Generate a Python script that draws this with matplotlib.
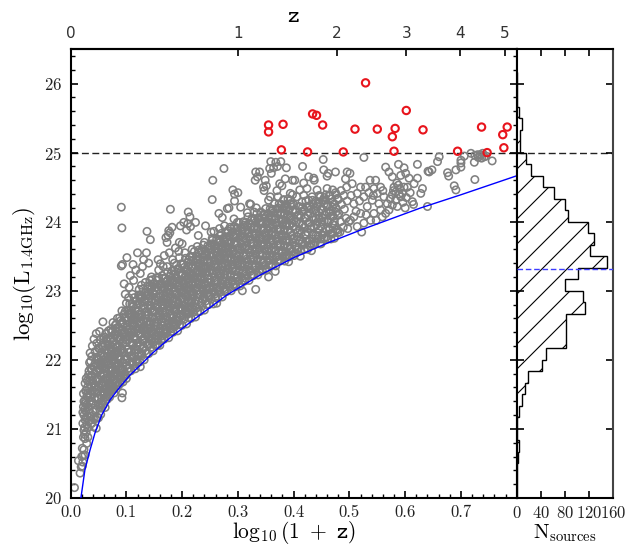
import numpy as np
import matplotlib
matplotlib.use("Agg")
import matplotlib.pyplot as plt
from matplotlib.ticker import MultipleLocator

plt.rcParams['font.family'] = 'serif'
plt.rcParams['font.serif'] = ['cmr10', 'DejaVu Serif']
plt.rcParams['mathtext.fontset'] = 'cm'
plt.rcParams['axes.formatter.use_mathtext'] = True
plt.rcParams['axes.unicode_minus'] = False

# ---- data ----
# grey sources, (log10(1+z), log10 L) grouped by redshift strip
grey_a = [(0.007,20.15),(0.014,20.54),(0.017,20.36),(0.021,20.46),(0.026,20.62),(0.024,20.70),(0.029,20.79),
          (0.026,20.86),(0.028,20.95),(0.024,20.98),(0.029,21.06),(0.026,21.13),(0.024,21.20),(0.030,21.19),
          (0.028,21.25),(0.023,21.32),(0.026,21.37),(0.032,21.32),(0.035,21.47),(0.029,21.47),(0.023,21.51),
          (0.038,21.40),(0.036,21.18),(0.041,21.15),(0.045,21.15),(0.038,21.08),(0.041,21.03),(0.045,21.27),
          (0.031,21.52),(0.026,21.66),(0.028,21.73),(0.032,21.78),(0.036,21.76),(0.041,21.66),(0.042,21.61),
          (0.034,21.59),(0.038,21.85),(0.041,21.90),(0.034,21.96),(0.038,22.05),(0.035,22.10),(0.044,22.12),
          (0.027,21.42),(0.031,21.02),(0.033,21.28),(0.022,21.08),(0.020,20.60),(0.022,20.52),(0.019,20.45),
          (0.031,20.88),(0.034,21.40),(0.039,21.55),(0.043,21.45),(0.040,21.70),(0.036,21.88),(0.043,21.80),
          (0.030,21.60),(0.025,21.28),(0.033,21.12),(0.021,20.72),(0.023,20.88),(0.025,21.02),(0.027,21.16),
          (0.022,21.24),(0.024,21.40),(0.028,21.56),(0.030,21.70),(0.033,21.84),(0.036,21.98),(0.039,22.20),
          (0.042,22.30),(0.044,21.95),(0.040,21.25),(0.037,21.35),(0.034,21.70),(0.032,21.45),(0.029,21.35),
          (0.027,21.55),(0.025,20.92),(0.023,20.62),(0.037,21.62),(0.043,21.60),(0.045,21.72),(0.046,22.38)]
grey_b = [(0.050,22.17),(0.059,22.19),(0.047,22.24),(0.053,22.29),(0.059,22.31),(0.052,22.41),(0.058,22.55),
          (0.047,21.52),(0.049,21.44),(0.052,21.35),(0.055,21.30),(0.050,21.60),(0.048,21.72),(0.053,21.78),
          (0.056,21.66),(0.058,21.52),(0.061,21.45),(0.064,21.58),(0.062,21.73),(0.057,21.90),(0.054,21.98),
          (0.050,21.92),(0.047,22.04),(0.060,22.05),(0.063,21.88),(0.066,21.80),(0.068,21.66),(0.070,21.55),
          (0.066,21.50),(0.072,21.56),(0.074,21.62),(0.071,21.75),(0.069,21.93),(0.065,22.10),(0.067,22.22),
          (0.071,22.05),(0.074,21.85),(0.077,21.70),(0.078,21.58),(0.080,21.78),(0.082,21.92),(0.079,22.05),
          (0.076,22.18),(0.073,22.30),(0.080,22.35),(0.084,22.20),(0.086,22.02),(0.088,21.86),(0.085,21.72),
          (0.083,21.68),(0.088,22.30),(0.087,22.45),(0.082,22.52),(0.075,22.42),(0.063,22.38),(0.089,21.66),
          (0.090,21.78),(0.046,21.84),(0.056,21.40),(0.061,21.52),(0.068,21.55),(0.078,21.95),(0.081,22.12),
          (0.064,21.97),(0.059,21.80),(0.062,21.62),(0.072,22.15),(0.076,21.62),(0.084,22.40),(0.086,21.95),
          (0.070,21.58),(0.058,22.00),(0.052,21.85),(0.067,21.72),(0.074,22.00),(0.085,22.10),(0.079,21.82),
          (0.055,22.10),(0.065,22.28),(0.089,22.15),(0.083,21.80),(0.060,21.95)]
grey_c = [(0.091,24.21),(0.092,23.91),(0.101,23.48),(0.091,23.36),(0.093,23.38),(0.137,23.86),(0.143,23.74),
          (0.094,22.12),(0.092,21.85),(0.095,21.76),(0.097,22.00),(0.099,22.25),(0.096,22.40),(0.093,22.55),
          (0.098,22.70),(0.100,22.82),(0.102,22.58),(0.104,22.35),(0.103,22.15),(0.101,21.92),(0.106,21.88),
          (0.108,22.05),(0.110,22.22),(0.107,22.45),(0.109,22.62),(0.112,22.78),(0.111,22.95),(0.114,22.52),
          (0.116,22.30),(0.115,22.10),(0.118,21.98),(0.120,22.15),(0.121,22.38),(0.119,22.60),(0.122,22.72),
          (0.124,22.88),(0.123,23.02),(0.126,22.55),(0.128,22.28),(0.127,22.08),(0.130,22.18),(0.131,22.42),
          (0.133,22.65),(0.132,22.85),(0.135,22.98),(0.134,23.12),(0.137,22.70),(0.139,22.45),(0.138,22.22),
          (0.141,22.30),(0.142,22.55),(0.144,22.78),(0.143,22.92),(0.146,23.05),(0.145,23.20),(0.148,22.62),
          (0.149,22.38),(0.147,22.25),(0.105,23.05),(0.113,23.15),(0.125,23.25),(0.129,23.35),(0.140,23.40),
          (0.117,23.30),(0.096,23.10),(0.098,22.95),(0.104,22.90),(0.108,22.72),(0.113,22.40),(0.117,22.85),
          (0.121,22.05),(0.125,22.45),(0.128,22.92),(0.132,22.30),(0.136,22.55),(0.140,22.85),(0.144,22.40),
          (0.146,22.70),(0.150,22.95),(0.150,22.45),(0.097,21.80),(0.110,21.95),(0.124,22.20),(0.137,22.35),
          (0.102,22.50),(0.106,22.65),(0.115,22.65),(0.119,22.45),(0.123,22.62),(0.130,22.78),(0.134,22.48),
          (0.139,22.98),(0.142,23.15),(0.148,23.10),(0.127,23.08),(0.111,22.58),(0.100,22.38),(0.094,22.28),
          (0.107,23.22),(0.136,23.55),(0.131,23.45),(0.120,23.55),(0.112,23.38),(0.092,21.45),(0.093,21.52),
          (0.125,21.90)]
grey_d = [(0.179,24.18),(0.175,23.80),(0.178,23.84),(0.171,23.77),(0.197,23.94),(0.208,23.88),(0.214,24.07),
          (0.215,23.93),(0.211,24.14),(0.210,23.97),(0.203,23.99),(0.224,23.99),(0.182,23.92),(0.176,23.87),
          (0.173,23.70),(0.195,23.70),(0.194,23.57),(0.168,23.51),(0.161,23.39),(0.152,22.30),(0.154,22.55),
          (0.156,22.80),(0.153,23.00),(0.155,23.15),(0.158,23.30),(0.157,22.40),(0.160,22.65),(0.162,22.92),
          (0.159,23.08),(0.163,22.35),(0.165,22.50),(0.166,22.75),(0.164,23.22),(0.168,23.02),(0.167,22.88),
          (0.170,22.45),(0.172,22.62),(0.171,22.98),(0.174,23.15),(0.173,23.35),(0.176,22.52),(0.178,22.78),
          (0.177,23.05),(0.180,23.25),(0.182,22.60),(0.184,22.85),(0.183,23.12),(0.186,23.40),(0.185,22.48),
          (0.188,22.70),(0.190,22.95),(0.189,23.18),(0.192,23.32),(0.191,22.58),(0.194,22.82),(0.196,23.08),
          (0.195,23.48),(0.198,22.65),(0.200,22.90),(0.199,23.22),(0.202,23.38),(0.201,22.72),(0.204,22.98),
          (0.206,23.15),(0.205,23.55),(0.208,22.68),(0.210,22.85),(0.209,23.30),(0.212,23.45),(0.214,22.75),
          (0.216,23.02),(0.215,23.25),(0.218,23.60),(0.217,22.88),(0.220,23.10),(0.219,23.35),(0.222,22.72),
          (0.151,22.70),(0.158,22.58),(0.163,23.10),(0.169,22.70),(0.175,22.90),(0.181,22.45),(0.187,22.95),
          (0.193,23.05),(0.197,22.75),(0.203,23.10),(0.207,22.92),(0.213,23.18),(0.219,22.95),(0.153,22.85),
          (0.160,22.42),(0.166,22.60),(0.172,22.82),(0.179,23.08),(0.185,22.72),(0.190,22.52),(0.198,22.98),
          (0.204,22.78),(0.211,23.05),(0.216,22.82),(0.221,23.22),(0.157,23.45),(0.177,23.55),(0.188,23.62),
          (0.166,23.35),(0.200,23.68),(0.183,23.45),(0.162,22.28),(0.173,22.40),(0.184,22.55),(0.195,22.62),
          (0.206,22.70),(0.213,22.68)]
grey_e = [(0.254,24.32),(0.255,24.60),(0.275,24.77),(0.291,24.46),(0.294,24.40),(0.300,24.42),(0.294,24.30),
          (0.281,24.19),(0.266,24.12),(0.288,23.90),(0.284,24.20),(0.229,23.80),(0.227,23.64),(0.242,23.94),
          (0.257,23.86),(0.272,24.06),(0.276,23.94),(0.282,23.87),(0.293,24.04),(0.299,23.99),(0.293,23.78),
          (0.269,23.80),(0.254,23.76),(0.224,22.85),(0.226,23.05),(0.228,23.28),(0.225,23.45),(0.231,22.95),
          (0.233,23.18),(0.232,23.40),(0.235,23.58),(0.237,22.88),(0.239,23.10),(0.238,23.32),(0.241,23.52),
          (0.240,23.70),(0.244,22.95),(0.246,23.22),(0.245,23.45),(0.248,23.62),(0.250,23.05),(0.252,23.30),
          (0.251,23.50),(0.253,23.68),(0.256,22.98),(0.258,23.15),(0.257,23.38),(0.260,23.58),(0.262,23.12),
          (0.264,23.35),(0.263,23.55),(0.266,23.72),(0.268,23.05),(0.270,23.25),(0.269,23.48),(0.272,23.65),
          (0.274,23.15),(0.276,23.40),(0.275,23.58),(0.278,23.78),(0.280,23.10),(0.282,23.32),(0.281,23.55),
          (0.284,23.70),(0.286,23.22),(0.288,23.45),(0.287,23.62),(0.290,23.15),(0.292,23.38),(0.291,23.58),
          (0.294,23.68),(0.296,23.28),(0.298,23.50),(0.297,23.82),(0.300,23.20),(0.223,23.20),(0.234,22.98),
          (0.243,23.35),(0.249,22.92),(0.259,23.45),(0.265,23.00),(0.271,23.60),(0.277,23.02),(0.283,23.48),
          (0.289,23.32),(0.295,23.10),(0.236,23.25),(0.247,23.12),(0.261,23.28),(0.273,23.35),(0.285,23.05),
          (0.299,23.40),(0.230,23.55),(0.252,23.85),(0.267,23.90),(0.279,23.62),(0.262,22.82),(0.230,23.38),
          (0.245,23.02),(0.258,23.65)]
grey_f = [(0.305,24.21),(0.311,23.92),(0.317,24.13),(0.321,24.26),(0.323,24.25),(0.333,24.20),(0.341,24.14),
          (0.329,24.14),(0.335,24.65),(0.339,24.72),(0.331,24.60),(0.349,24.60),(0.346,24.50),(0.351,24.52),
          (0.332,24.72),(0.347,24.45),(0.357,24.77),(0.368,24.86),(0.377,24.87),(0.359,24.87),(0.364,24.78),
          (0.371,24.80),(0.387,24.78),(0.360,24.70),(0.385,24.62),(0.379,24.52),(0.370,24.45),(0.375,24.55),
          (0.358,24.36),(0.355,24.31),(0.372,24.36),(0.382,24.31),(0.394,24.41),(0.394,24.26),(0.398,24.60),
          (0.302,23.15),(0.304,23.38),(0.303,23.60),(0.306,23.80),(0.308,23.25),(0.310,23.50),(0.309,23.72),
          (0.312,23.95),(0.314,23.18),(0.316,23.42),(0.315,23.65),(0.318,23.88),(0.320,23.30),(0.322,23.55),
          (0.321,23.78),(0.324,24.02),(0.326,23.22),(0.328,23.48),(0.327,23.70),(0.330,23.92),(0.332,23.35),
          (0.334,23.60),(0.333,23.82),(0.336,24.05),(0.338,23.28),(0.340,23.52),(0.339,23.75),(0.342,23.98),
          (0.344,23.40),(0.346,23.65),(0.345,23.88),(0.348,24.10),(0.350,23.32),(0.352,23.58),(0.351,23.80),
          (0.354,24.00),(0.356,23.45),(0.358,23.70),(0.357,23.92),(0.360,24.15),(0.362,23.38),(0.364,23.62),
          (0.363,23.85),(0.366,24.08),(0.368,23.50),(0.370,23.75),(0.369,23.98),(0.372,24.20),(0.374,23.45),
          (0.376,23.68),(0.375,23.90),(0.378,24.12),(0.380,23.55),(0.382,23.80),(0.381,24.02),(0.384,24.22),
          (0.386,23.50),(0.388,23.72),(0.387,23.95),(0.390,24.15),(0.392,23.60),(0.394,23.85),(0.393,24.05),
          (0.396,23.52),(0.398,23.75),(0.397,23.98),(0.400,24.25),(0.308,23.00),(0.332,23.02),(0.313,23.62),
          (0.343,23.70),(0.367,23.28),(0.391,23.42),(0.355,23.20)]
grey_g = [(0.402,24.60),(0.411,24.46),(0.403,24.17),(0.406,24.36),(0.416,24.80),(0.437,24.60),(0.418,24.38),
          (0.453,24.90),(0.462,24.70),(0.475,24.72),(0.496,24.72),(0.501,24.70),(0.493,24.62),(0.454,24.75),
          (0.460,24.66),(0.442,24.46),(0.448,24.36),(0.433,24.36),(0.427,24.31),(0.415,24.29),(0.424,24.22),
          (0.442,24.22),(0.457,24.31),(0.460,24.48),(0.418,24.56),(0.424,24.48),(0.436,24.63),(0.427,24.65),
          (0.404,23.55),(0.406,23.78),(0.405,24.00),(0.409,23.62),(0.411,23.88),(0.410,24.10),(0.414,23.68),
          (0.416,23.95),(0.415,24.15),(0.419,23.60),(0.421,23.82),(0.420,24.05),(0.424,23.72),(0.426,23.98),
          (0.425,24.20),(0.429,23.65),(0.431,23.90),(0.430,24.12),(0.434,23.75),(0.436,24.02),(0.435,24.25),
          (0.439,23.70),(0.441,23.95),(0.440,24.15),(0.444,23.80),(0.446,24.05),(0.445,24.28),(0.449,23.75),
          (0.451,24.00),(0.450,24.18),(0.454,23.85),(0.456,24.10),(0.455,24.35),(0.459,23.78),(0.461,24.02),
          (0.460,24.22),(0.464,23.90),(0.466,24.15),(0.465,24.38),(0.469,23.82),(0.471,24.08),(0.470,24.28),
          (0.474,23.95),(0.476,24.20),(0.475,24.42),(0.479,23.88),(0.481,24.12),(0.480,24.32),(0.484,24.00),
          (0.486,24.25),(0.485,24.45),(0.489,23.92),(0.491,24.18),(0.490,24.38),(0.494,24.05),(0.496,24.30),
          (0.495,24.50),(0.499,24.00),(0.412,23.50),(0.432,23.58),(0.447,23.68),(0.467,23.75),(0.483,23.85),
          (0.497,23.90)]
grey_h = [(0.526,24.93),(0.537,24.60),(0.547,24.60),(0.556,24.50),(0.544,24.48),(0.529,24.50),(0.520,24.50),
          (0.565,24.79),(0.571,24.72),(0.577,24.65),(0.588,24.83),(0.598,24.78),(0.601,24.70),(0.592,24.67),
          (0.607,24.63),(0.622,24.83),(0.622,24.63),(0.631,24.48),(0.628,24.41),(0.613,24.29),(0.595,24.41),
          (0.592,24.36),(0.583,24.31),(0.577,24.24),(0.580,24.50),(0.588,24.53),(0.598,24.50),(0.604,24.50),
          (0.583,24.43),(0.577,24.39),(0.514,24.41),(0.526,24.36),(0.541,24.31),(0.553,24.26),(0.532,24.22),
          (0.520,24.12),(0.508,24.07),(0.544,24.12),(0.556,24.17),(0.565,24.12),(0.559,24.07),(0.538,24.02),
          (0.526,23.98),(0.514,23.93),(0.522,23.85),(0.502,24.02),(0.568,24.26),(0.571,24.17),(0.562,24.36),
          (0.550,24.41),(0.508,24.26),(0.503,24.38),(0.512,24.15),(0.535,24.42),(0.548,24.02),(0.573,24.33),
          (0.586,24.22),(0.589,24.40),(0.596,24.28),(0.602,24.35),(0.579,24.45),(0.585,24.56),(0.600,24.20),
          (0.609,24.42),(0.616,24.55),(0.590,24.48),(0.518,24.30),(0.530,24.10),(0.543,24.38),(0.560,24.45),
          (0.505,24.55),(0.615,24.25)]
grey_i = [(0.640,24.22),(0.661,24.94),(0.658,24.87),(0.643,24.72),(0.648,24.75),(0.678,24.66),(0.691,24.75),
          (0.700,24.79),(0.700,24.89),(0.724,24.86),(0.725,24.96),(0.735,24.97),(0.742,24.94),(0.731,24.93),
          (0.739,24.99),(0.745,24.95),(0.718,24.99),(0.730,24.97),(0.756,24.88),(0.725,24.61),(0.691,24.46),
          (0.688,24.52),(0.676,24.71),(0.641,24.73),(0.706,24.95),(0.700,24.85),(0.734,24.96),(0.737,24.92)]

# crowded core of the cloud just above the limit curve, log10(1+z): [log10 L, ...]
core_1 = {0.046: [21.01, 21.29, 21.57, 21.85], 0.048: [21.17, 21.45, 21.73, 22.01],
          0.050: [21.16, 21.44, 21.72, 22.00], 0.052: [21.32, 21.60, 21.88, 22.16],
          0.054: [21.21, 21.49, 21.77, 22.05], 0.056: [21.37, 21.65, 21.93, 22.21],
          0.058: [21.34, 21.62, 21.90, 22.18], 0.060: [21.49, 21.77, 22.05, 22.33],
          0.062: [21.31, 21.59, 21.87, 22.15], 0.064: [21.46, 21.74, 22.02, 22.30],
          0.066: [21.43, 21.71, 21.99, 22.27], 0.068: [21.58, 21.86, 22.14, 22.42],
          0.070: [21.46, 21.74, 22.02, 22.30], 0.072: [21.60, 21.88, 22.16, 22.44],
          0.074: [21.56, 21.84, 22.12, 22.40], 0.076: [21.70, 21.98, 22.26, 22.54],
          0.078: [21.52, 21.80, 22.08, 22.36], 0.080: [21.66, 21.94, 22.22, 22.50],
          0.082: [21.62, 21.90, 22.18, 22.46], 0.084: [21.76, 22.04, 22.32, 22.60],
          0.086: [21.63, 21.91, 22.19, 22.47], 0.088: [21.77, 22.05, 22.33, 22.61],
          0.090: [21.73, 22.01, 22.29, 22.57], 0.092: [21.87, 22.15, 22.43, 22.71],
          0.094: [21.68, 21.96, 22.24, 22.52], 0.096: [21.82, 22.10, 22.38, 22.66],
          0.098: [21.77, 22.05, 22.33, 22.61]}
core_2 = {0.100: [21.73, 22.01, 22.29, 22.57], 0.102: [21.87, 22.15, 22.43, 22.71],
          0.104: [21.83, 22.11, 22.39, 22.67], 0.106: [21.97, 22.25, 22.53, 22.81],
          0.108: [21.84, 22.12, 22.40, 22.68], 0.110: [21.97, 22.25, 22.53, 22.81],
          0.112: [21.93, 22.21, 22.49, 22.77], 0.114: [22.06, 22.34, 22.62, 22.90],
          0.116: [21.87, 22.15, 22.43, 22.71], 0.118: [22.01, 22.29, 22.57, 22.85],
          0.120: [21.96, 22.24, 22.52, 22.80], 0.122: [22.10, 22.38, 22.66, 22.94],
          0.124: [21.97, 22.25, 22.53, 22.81], 0.126: [22.10, 22.38, 22.66, 22.94],
          0.128: [22.06, 22.34, 22.62, 22.90], 0.130: [22.19, 22.47, 22.75, 23.03],
          0.132: [22.00, 22.28, 22.56, 22.84], 0.134: [22.13, 22.41, 22.69, 22.97],
          0.136: [22.09, 22.37, 22.65, 22.93], 0.138: [22.23, 22.51, 22.79, 23.07],
          0.140: [22.09, 22.37, 22.65, 22.93], 0.142: [22.23, 22.51, 22.79, 23.07],
          0.144: [22.18, 22.46, 22.74, 23.02], 0.146: [22.32, 22.60, 22.88, 23.16],
          0.148: [22.13, 22.41, 22.69, 22.97], 0.150: [22.26, 22.54, 22.82, 23.10],
          0.152: [22.21, 22.49, 22.77, 23.05], 0.154: [22.35, 22.63, 22.91, 23.19],
          0.156: [22.21, 22.49, 22.77, 23.05], 0.158: [22.35, 22.63, 22.91, 23.19]}
core_3 = {0.160: [22.21, 22.46, 22.71, 22.96], 0.162: [22.34, 22.59, 22.84, 23.09],
          0.164: [22.30, 22.55, 22.80, 23.05], 0.166: [22.43, 22.68, 22.93, 23.18],
          0.168: [22.30, 22.55, 22.80, 23.05], 0.170: [22.43, 22.68, 22.93, 23.18],
          0.172: [22.38, 22.63, 22.88, 23.13], 0.174: [22.52, 22.77, 23.02, 23.27],
          0.176: [22.32, 22.57, 22.82, 23.07], 0.178: [22.46, 22.71, 22.96, 23.21],
          0.180: [22.41, 22.66, 22.91, 23.16], 0.182: [22.54, 22.79, 23.04, 23.29],
          0.184: [22.40, 22.65, 22.90, 23.15], 0.186: [22.54, 22.79, 23.04, 23.29],
          0.188: [22.49, 22.74, 22.99, 23.24], 0.190: [22.62, 22.87, 23.12, 23.37],
          0.192: [22.42, 22.67, 22.92, 23.17], 0.194: [22.56, 22.81, 23.06, 23.31],
          0.196: [22.51, 22.76, 23.01, 23.26], 0.198: [22.64, 22.89, 23.14, 23.39],
          0.200: [22.50, 22.75, 23.00, 23.25], 0.202: [22.64, 22.89, 23.14, 23.39],
          0.204: [22.59, 22.84, 23.09, 23.34], 0.206: [22.72, 22.97, 23.22, 23.47],
          0.208: [22.52, 22.77, 23.02, 23.27], 0.210: [22.66, 22.91, 23.16, 23.41],
          0.212: [22.61, 22.86, 23.11, 23.36], 0.214: [22.74, 22.99, 23.24, 23.49],
          0.216: [22.60, 22.85, 23.10, 23.35], 0.218: [22.74, 22.99, 23.24, 23.49],
          0.220: [22.69, 22.94, 23.19, 23.44], 0.222: [22.82, 23.07, 23.32, 23.57],
          0.224: [22.62, 22.87, 23.12, 23.37], 0.226: [22.75, 23.00, 23.25, 23.50],
          0.228: [22.70, 22.95, 23.20, 23.45], 0.230: [22.84, 23.09, 23.34, 23.59],
          0.232: [22.70, 22.95, 23.20, 23.45], 0.234: [22.83, 23.08, 23.33, 23.58],
          0.236: [22.78, 23.03, 23.28, 23.53], 0.238: [22.91, 23.16, 23.41, 23.66]}
core_4 = {0.240: [22.72, 22.96, 23.20, 23.44], 0.242: [22.85, 23.09, 23.33, 23.57],
          0.244: [22.80, 23.04, 23.28, 23.52], 0.246: [22.93, 23.17, 23.41, 23.65],
          0.248: [22.80, 23.04, 23.28, 23.52], 0.250: [22.93, 23.17, 23.41, 23.65],
          0.252: [22.88, 23.12, 23.36, 23.60], 0.254: [23.01, 23.25, 23.49, 23.73],
          0.256: [22.81, 23.05, 23.29, 23.53], 0.258: [22.95, 23.19, 23.43, 23.67],
          0.260: [22.90, 23.14, 23.38, 23.62], 0.262: [23.03, 23.27, 23.51, 23.75],
          0.264: [22.89, 23.13, 23.37, 23.61], 0.266: [23.02, 23.26, 23.50, 23.74],
          0.268: [22.98, 23.22, 23.46, 23.70], 0.270: [23.11, 23.35, 23.59, 23.83],
          0.272: [22.91, 23.15, 23.39, 23.63], 0.274: [23.04, 23.28, 23.52, 23.76],
          0.276: [22.99, 23.23, 23.47, 23.71], 0.278: [23.13, 23.37, 23.61, 23.85],
          0.280: [22.99, 23.23, 23.47, 23.71], 0.282: [23.12, 23.36, 23.60, 23.84],
          0.284: [23.07, 23.31, 23.55, 23.79], 0.286: [23.20, 23.44, 23.68, 23.92],
          0.288: [23.00, 23.24, 23.48, 23.72], 0.290: [23.13, 23.37, 23.61, 23.85],
          0.292: [23.08, 23.32, 23.56, 23.80], 0.294: [23.21, 23.45, 23.69, 23.93],
          0.296: [23.06, 23.30, 23.54, 23.78], 0.298: [23.19, 23.43, 23.67, 23.91],
          0.300: [23.14, 23.38, 23.62, 23.86], 0.302: [23.27, 23.51, 23.75, 23.99],
          0.304: [23.07, 23.31, 23.55, 23.79], 0.306: [23.20, 23.44, 23.68, 23.92],
          0.308: [23.15, 23.39, 23.63, 23.87], 0.310: [23.28, 23.52, 23.76, 24.00],
          0.312: [23.14, 23.38, 23.62, 23.86], 0.314: [23.27, 23.51, 23.75, 23.99],
          0.316: [23.22, 23.46, 23.70, 23.94], 0.318: [23.35, 23.59, 23.83, 24.07]}
core_5 = {0.320: [23.15, 23.38, 23.61, 23.84], 0.322: [23.28, 23.51, 23.74, 23.97],
          0.324: [23.23, 23.46, 23.69, 23.92], 0.326: [23.36, 23.59, 23.82, 24.05],
          0.328: [23.22, 23.45, 23.68, 23.91], 0.330: [23.35, 23.58, 23.81, 24.04],
          0.332: [23.30, 23.53, 23.76, 23.99], 0.334: [23.43, 23.66, 23.89, 24.12],
          0.336: [23.23, 23.46, 23.69, 23.92], 0.338: [23.36, 23.59, 23.82, 24.05],
          0.340: [23.31, 23.54, 23.77, 24.00], 0.342: [23.44, 23.67, 23.90, 24.13],
          0.344: [23.29, 23.52, 23.75, 23.98], 0.346: [23.42, 23.65, 23.88, 24.11],
          0.348: [23.37, 23.60, 23.83, 24.06], 0.350: [23.50, 23.73, 23.96, 24.19],
          0.352: [23.30, 23.53, 23.76, 23.99], 0.354: [23.43, 23.66, 23.89, 24.12],
          0.356: [23.37, 23.60, 23.83, 24.06], 0.358: [23.50, 23.73, 23.96, 24.19],
          0.360: [23.36, 23.59, 23.82, 24.05], 0.362: [23.49, 23.72, 23.95, 24.18],
          0.364: [23.44, 23.67, 23.90, 24.13], 0.366: [23.57, 23.80, 24.03, 24.26],
          0.368: [23.36, 23.59, 23.82, 24.05], 0.370: [23.49, 23.72, 23.95, 24.18],
          0.372: [23.44, 23.67, 23.90, 24.13], 0.374: [23.57, 23.80, 24.03, 24.26],
          0.376: [23.43, 23.66, 23.89, 24.12], 0.378: [23.56, 23.79, 24.02, 24.25],
          0.380: [23.50, 23.73, 23.96, 24.19], 0.382: [23.63, 23.86, 24.09, 24.32],
          0.384: [23.43, 23.66, 23.89, 24.12], 0.386: [23.56, 23.79, 24.02, 24.25],
          0.388: [23.51, 23.74, 23.97, 24.20], 0.390: [23.64, 23.87, 24.10, 24.33],
          0.392: [23.49, 23.72, 23.95, 24.18], 0.394: [23.62, 23.85, 24.08, 24.31],
          0.396: [23.57, 23.80, 24.03, 24.26], 0.398: [23.70, 23.93, 24.16, 24.39]}
core_6 = {0.401: [23.51, 23.76, 24.01], 0.404: [23.64, 23.89, 24.14], 0.407: [23.59, 23.84, 24.09],
          0.410: [23.72, 23.97, 24.22], 0.413: [23.58, 23.83, 24.08], 0.416: [23.71, 23.96, 24.21],
          0.419: [23.67, 23.92, 24.17], 0.422: [23.80, 24.05, 24.30], 0.425: [23.60, 23.85, 24.10],
          0.428: [23.73, 23.98, 24.23], 0.431: [23.68, 23.93, 24.18], 0.434: [23.81, 24.06, 24.31],
          0.437: [23.67, 23.92, 24.17], 0.440: [23.80, 24.05, 24.30], 0.443: [23.75, 24.00, 24.25],
          0.446: [23.88, 24.13, 24.38], 0.449: [23.68, 23.93, 24.18], 0.452: [23.81, 24.06, 24.31],
          0.455: [23.76, 24.01, 24.26], 0.458: [23.89, 24.14, 24.39], 0.461: [23.75, 24.00, 24.25],
          0.464: [23.88, 24.13, 24.38], 0.467: [23.83, 24.08, 24.33], 0.470: [23.96, 24.21, 24.46],
          0.473: [23.76, 24.01, 24.26], 0.476: [23.89, 24.14, 24.39], 0.479: [23.84, 24.09, 24.34]}

# bright sources above log L = 25
red_pts = [(0.355,25.40),(0.355,25.30),(0.381,25.41),(0.378,25.04),(0.425,25.01),(0.434,25.56),(0.441,25.54),
           (0.452,25.40),(0.489,25.01),(0.510,25.34),(0.529,26.01),(0.550,25.34),(0.577,25.23),(0.582,25.35),
           (0.580,25.02),(0.602,25.61),(0.632,25.33),(0.694,25.02),(0.737,25.37),(0.747,25.00),(0.775,25.26),
           (0.777,25.07),(0.783,25.37)]

# luminosity limit curve
curve_x = [0.0185, 0.0257, 0.0347, 0.0437, 0.0557, 0.0707, 0.0887, 0.1067, 0.1246, 0.1486,
           0.1786, 0.2205, 0.2805, 0.3405, 0.4004, 0.4604, 0.5204, 0.628, 0.70, 0.802]
curve_L = [20.00, 20.41, 20.69, 20.94, 21.20, 21.42, 21.61, 21.78, 21.92, 22.11,
           22.32, 22.58, 22.94, 23.23, 23.48, 23.69, 23.88, 24.20, 24.39, 24.67]

# histogram of log L, bins of 1/6 dex starting at 20
hist_start = 20.0
hist_width = 1.0 / 6.0
hist_counts = [1, 0, 0, 3, 4, 1, 1, 4, 9, 14, 18, 42, 48, 82, 82, 82, 114, 110, 81, 102,
               150, 121, 129, 119, 85, 80, 62, 43, 23, 16, 6, 6, 8, 4, 0, 0, 1]
median_L = 23.31
L_cut = 25.0

z_ticks = [0, 1, 2, 3, 4, 5]

# ---- figure ----
W, H = 636, 547
fig = plt.figure(figsize=(W / 100, H / 100), dpi=100)
ax = fig.add_axes([0.111, 0.0896, 0.7014, 0.8208])
ax2 = fig.add_axes([0.8124, 0.0896, 0.1514, 0.8208])

pts = grey_a + grey_b + grey_c + grey_d + grey_e + grey_f + grey_g + grey_h + grey_i
for core in (core_1, core_2, core_3, core_4, core_5, core_6):
    for x, ys in core.items():
        pts += [(x, y) for y in ys]
grey = np.array(pts)
red = np.array(red_pts)

ax.scatter(grey[:, 0], grey[:, 1], s=28, facecolors='none', edgecolors='#808080', linewidths=1.15, zorder=2)
ax.scatter(red[:, 0], red[:, 1], s=28, facecolors='none', edgecolors='#e8141c', linewidths=1.5, zorder=3)
ax.plot(curve_x, curve_L, color='#0000ff', lw=1.0, zorder=4)
ax.axhline(L_cut, color='#222222', lw=1.0, ls=(0, (5, 2.5)), zorder=1)

ax.set_xlim(0, 0.8)
ax.set_ylim(20, 26.5)
ax.xaxis.set_minor_locator(MultipleLocator(0.02))
ax.yaxis.set_major_locator(MultipleLocator(1))
ax.yaxis.set_minor_locator(MultipleLocator(0.2))
ax.set_xticks([0.0, 0.1, 0.2, 0.3, 0.4, 0.5, 0.6, 0.7])
ax.set_xticklabels(['0.0', '0.1', '0.2', '0.3', '0.4', '0.5', '0.6', '0.7'])
ax.tick_params(which='both', direction='in', left=True, right=True, top=False, bottom=True,
               labelsize=12, labelcolor='#222222')
ax.tick_params(which='major', length=5, width=1.2)
ax.tick_params(which='minor', length=2.6, width=1.0)
ax.tick_params(axis='y', pad=6)
ax.tick_params(axis='x', pad=5)
for s in ax.spines.values():
    s.set_linewidth(1.5)

ax.set_xlabel(r'$\mathrm{log_{10}}\,\mathtt{(1\ +\ z)}$', fontsize=15.5, labelpad=-1)
ax.set_ylabel(r'$\mathrm{log_{10}(L_{1.4GHz})}$', fontsize=16.5, labelpad=4)

top = ax.secondary_xaxis('top')
top.set_xticks(np.log10(1 + np.array(z_ticks)), labels=[str(z) for z in z_ticks],
               fontfamily='DejaVu Sans', fontsize=11, color='#333333')
top.tick_params(direction='in', length=5, width=1.2, pad=6)
top.set_xlabel(r'$\mathtt{z}$', fontsize=16, labelpad=3)
top.spines['top'].set_linewidth(1.5)

# ---- histogram panel ----
edges = hist_start + hist_width * np.arange(len(hist_counts) + 1)
step = ax2.stairs(hist_counts, edges, orientation='horizontal', baseline=0, fill=False,
                  color='black', lw=1.0, zorder=3)

ax_w = 0.1514 * W
ax_h = 0.8208 * H
rise = ax_w / ax_h
gap = 25.0 / ax_h
c = -rise
while c < 1.0:
    ln, = ax2.plot([0, 1], [c, c + rise], transform=ax2.transAxes, color='black', lw=0.8, zorder=2)
    ln.set_clip_path(step)
    c += gap

ax2.axhline(L_cut, color='#222222', lw=1.0, ls=(0, (5, 2.5)), zorder=1)
ax2.axhline(median_L, color='#3c3cff', lw=1.0, ls=(0, (4, 2)), zorder=4)

ax2.set_xlim(0, 160)
ax2.set_ylim(20, 26.5)
ax2.set_xticks([0, 40, 80, 120, 160])
ax2.set_yticks([20, 21, 22, 23, 24, 25, 26])
ax2.tick_params(axis='x', direction='in', top=True, bottom=True, length=5, width=1.2,
                labelsize=12, labelcolor='#222222', pad=5)
ax2.tick_params(axis='y', direction='in', left=True, right=True, length=5, width=1.2, labelleft=False)
for s in ax2.spines.values():
    s.set_linewidth(1.5)
ax2.spines['right'].set_color('#444444')
ax2.set_xlabel(r'$\mathrm{N_{sources}}$', fontsize=15, labelpad=1)

fig.savefig('out.png', dpi=100)
